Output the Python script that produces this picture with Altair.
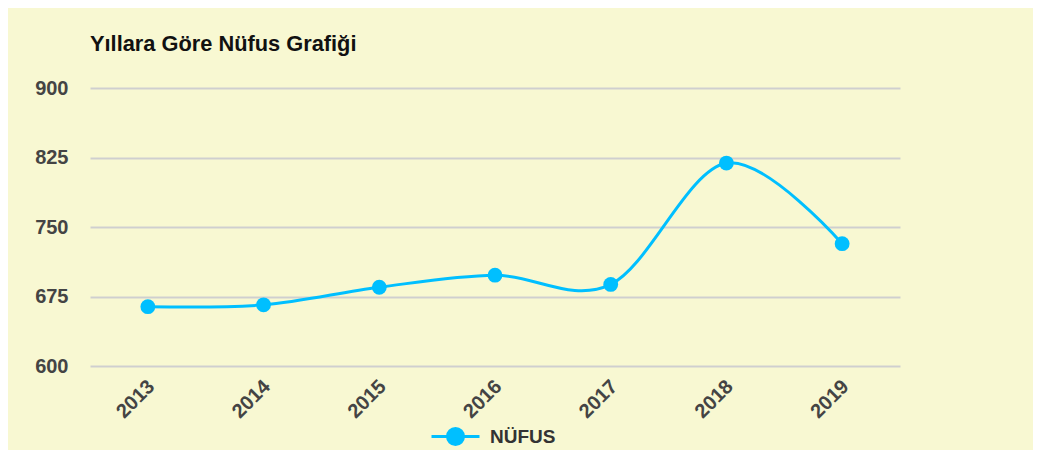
import altair as alt
import pandas as pd

years = ["2013", "2014", "2015", "2016", "2017", "2018", "2019"]
nufus = [664, 666, 685, 698, 688, 819, 732]
series = ["NÜFUS"] * len(years)

df = pd.DataFrame({"Yıl": years, "Nüfus": nufus, "Seri": series})

color = "#00bfff"
sym_path = ("M-1.5,0L1.5,0"
            "M-0.5,0A0.5,0.5 0 1,1 0.5,0A0.5,0.5 0 1,1 -0.5,0Z")

base = alt.Chart(df).encode(
    x=alt.X("Yıl:O", title=None,
            scale=alt.Scale(type="point", padding=0.5),
            axis=alt.Axis(labelAngle=-45, labelPadding=10, labelOffset=-4,
                          ticks=False, domain=False, grid=False)),
    y=alt.Y("Nüfus:Q", title=None,
            scale=alt.Scale(domain=[600, 900], nice=False, zero=False),
            axis=alt.Axis(values=[600, 675, 750, 825, 900], ticks=False,
                          domain=False, labelPadding=22,
                          gridColor="#cfcfcf", gridWidth=2)),
    color=alt.Color("Seri:N", title=None,
                    scale=alt.Scale(range=[color]),
                    legend=alt.Legend(orient="none", legendX=348, legendY=331,
                                      symbolType=sym_path, symbolSize=1024,
                                      symbolFillColor=color, symbolStrokeColor=color,
                                      symbolStrokeWidth=3, labelFontSize=19,
                                      labelFontWeight="bold", labelColor="#333333",
                                      labelFont="Liberation Sans", labelOffset=17)),
)

line = base.mark_line(interpolate="cardinal", strokeWidth=3)
pts = base.mark_circle(size=220, opacity=1)

chart = (line + pts).properties(
    width=810, height=278,
    title=alt.TitleParams("Yıllara Göre Nüfus Grafiği", anchor="start",
                          frame="group",
                          font="Liberation Sans", fontSize=21.8, fontWeight="bold",
                          color="#111111", offset=22),
    padding={"left": 82, "top": 80, "right": 133, "bottom": 84},
    autosize=alt.AutoSizeParams(type="none"),
    background="#f8f8d2",
).configure_view(stroke=None).configure_axis(
    labelFont="Liberation Sans", labelFontSize=20, labelFontWeight="bold",
    labelColor="#444444"
)

chart.save("out.html", embed_options={"renderer": "svg", "actions": False})
